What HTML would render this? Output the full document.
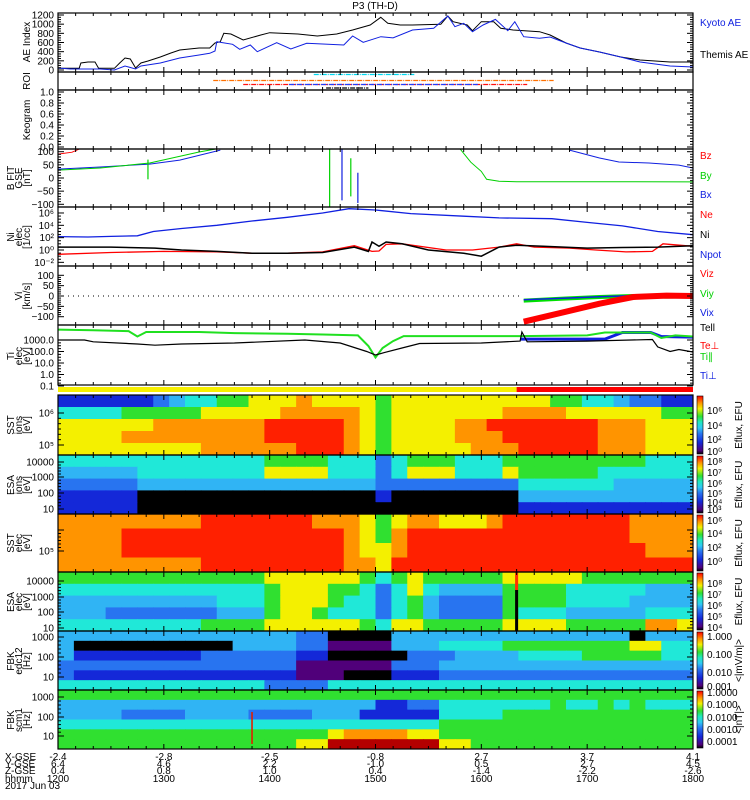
<!DOCTYPE html>
<html><head><meta charset="utf-8">
<style>
html,body{margin:0;padding:0;background:#fff;}
svg{display:block;font-family:"Liberation Sans",sans-serif;}
text{font-size:10px;}
</style></head>
<body>
<svg id="chart" width="750" height="800" viewBox="0 0 750 800" xmlns="http://www.w3.org/2000/svg">
<rect x="0" y="0" width="750" height="800" fill="#fff"/>
<text x="375" y="9" text-anchor="middle">P3 (TH-D)</text>
</svg>
<script>
// ---------- data (time in minutes after 12:00 UT) ----------
const aeThemisT = [0,12,13,17,21,23,32,35,38,41,44,47,51,58,64,69,80,86,89,92,94,98,105,115,120,136,147,158,167,177,183,187,194,201,217,221,224,232,235,240,247,251,258,273,279,288,296,307,319,330,347,360];
const aeThemisV = [36,40,153,175,175,36,36,153,262,240,44,153,196,284,371,436,480,480,589,617,800,785,655,763,814,785,742,785,873,982,1150,1018,982,982,1000,1178,1054,982,858,1054,1054,909,873,836,763,589,480,393,284,218,175,175];
const aeKyotoT = [0,7,24,32,38,44,47,58,69,80,86,89,90,99,103,109,113,124,132,141,162,167,173,183,190,201,213,221,225,230,235,241,248,255,259,264,273,279,288,296,307,319,330,347,360];
const aeKyotoV = [44,22,22,0,87,22,87,153,262,327,364,415,617,560,451,545,400,596,458,582,545,742,604,727,700,873,909,1178,945,1018,836,982,1105,858,1054,727,691,720,589,480,393,284,175,87,65];
const aeTicks = [0,200,400,600,800,1000,1200];

const bTicks = [100,50,0,-50,-100];
const bxT = [0,24,52,69,92,   290,307,318,335,352,360];
const bxV = [34,42,53,68,106, 106,76,61,57,49,38];
const byT = [0,24,52,80,89,   228,234,240,243,250,260,300,360];
const byV = [30,38,57,99,110, 110,60,25,-5,-12,-14,-14,-15];
const bzT = [0,8,12];
const bzV = [91,98,110];
const bSpikeT = [51,154,161,166,170];
const bSpikeTop = [70,110,110,75,20];
const bSpikeBot = [-5,-110,-85,-70,-95];
const bSpikeC = ['#00d000','#00d000','#1020e0','#00d000','#1020e0'];

const niTicks = [6,4,2,0,-2];
const npotT = [0,17,30,45,54,70,90,110,130,150,165,180,200,230,250,280,300,320,340,360];
const npotV = [150,130,160,200,1e3,3e3,1e4,5e4,2e5,1e6,5e6,3e6,8e5,3e5,1.6e5,1.2e5,3e4,8e3,1e3,300];
const neT = [0,30,60,90,110,130,150,168,178,182,186,195,220,235,250,260,270,290,305,322,337,343,360];
const neV = [0.2,0.4,0.6,0.5,0.3,0.3,0.5,5,0.6,0.7,8,10,1,1,3,10,3,2,1,0.5,0.6,10,4];
const niT = [0,30,55,70,90,110,130,150,168,176,178,182,186,195,210,230,240,250,260,275,300,320,340,360];
const niV = [3,3,2,1,0.6,0.3,0.3,0.4,3,0.6,20,4,20,10,1,0.3,0.1,3,6,4,2,2.5,3,5];

const viTicks = [100,50,0,-50,-100];
const vT = [264,288,307,326,345,360];
const vxV = [-124,-76,-37,-5,2,0];
const vyV = [-22,-12,-5,0,-3,-2];
const vzV = [-18,-10,-4,2,1,-3];

const tiTicks = [1000,100,10,1,0.1];
const tiTickLabels = ['1000.0','100.0','10.0','1.0','0.1'];
const teParT = [0,15,20,45,55,70,100,140,160,175,180,185,195,205,240,262,263,266,300,337,340,347,352,360];
const teParV = [1000,1000,700,450,350,450,550,1000,550,100,50,80,200,500,550,800,5000,700,800,1100,250,100,150,90];
const tiParT = [0,20,40,45,50,80,100,130,150,170,176,180,184,190,196,220,262,300,310,336,342,350,360];
const tiParV = [8000,7000,6000,2000,5000,5000,4000,3500,3000,2500,300,30,200,800,2200,2200,2200,2500,4500,4500,1500,2500,2000];
const tiPerpT = [262,310,320,336,342,360];
const tiPerpV = [1200,1200,4500,4500,2000,1800];

const roiLines = [ // start, end (minutes), color
  {t0:145,t1:202,c:'#00d8f0'},
  {t0:88,t1:281,c:'#ff7000'},
  {t0:105,t1:266,c:'#ff1010'},
  {t0:131,t1:238,c:'#2040ff'},
  {t0:152,t1:176,c:'#000000'}
];
const statusT = [0,260,360];
const statusC = ['#f8f000','#ff0000'];

// spectrogram levels (digit 0..9, a) rows top->bottom, columns time
const sstIon = [
 "222222"+"3"+"4"+"5"+"5"+"6"+"6"+"777"+"8"+"7777"+"6"+"7777777777"+"66"+"55"+"4"+"33"+"22",
 "5555"+"66666"+"77777"+"88888"+"7"+"6"+"7777777"+"8888"+"777777"+"66",
 "7777"+"77888"+"8888"+"99999"+"8"+"7"+"6"+"777"+"7"+"88"+"99"+"99999"+"888"+"777",
 "7777"+"88888"+"8888"+"99999"+"8"+"7"+"6"+"7777"+"888"+"999999"+"888"+"777",
 "7777"+"77777"+"88888"+"8999"+"8"+"7"+"6"+"7777"+"7"+"888"+"99999"+"888"+"777"
];
const esaIon = [
 "555555"+"5555555"+"6666"+"555"+"3"+"5"+"666"+"555"+"6"+"6666"+"6666"+"555",
 "44444"+"55555555"+"7777"+"555"+"3"+"5"+"777"+"555"+"7"+"66666"+"555555",
 "33333"+"444444444444444"+"3"+"33333333"+"555555"+"44444",
 "22222"+"000000000000000"+"2"+"00000000"+"44444444444",
 "22222"+"000000000000000"+"0"+"00000000"+"22222222222"
];
const sstElec = [
 "8888"+"88888"+"9999999"+"888"+"7"+"6"+"7"+"88"+"777"+"8"+"99999999"+"8888",
 "8888"+"999999999999"+"99"+"8"+"7"+"6"+"8"+"999999"+"99999999"+"8888",
 "8888"+"99999999999999"+"8"+"7"+"7"+"8"+"999999999999999"+"888",
 "8888"+"88888"+"999999999"+"8"+"8"+"7"+"9"+"999999999999999999"
];
const esaElec = [
 "666"+"6666666666"+"7777"+"77"+"6"+"5"+"6"+"7"+"66666"+"7"+"7777"+"6666666",
 "555"+"5555555555"+"6"+"777"+"66"+"5"+"3"+"5"+"7"+"5"+"4444"+"6"+"666"+"55555"+"444",
 "444"+"4444444"+"555"+"6"+"777"+"6"+"5"+"5"+"3"+"5"+"6"+"4"+"3333"+"6"+"666"+"5555"+"4444",
 "444"+"3333333"+"444"+"6"+"77"+"6"+"5"+"5"+"5"+"3"+"5"+"6"+"4"+"3333"+"6"+"555"+"4444"+"4"+"555",
 "555"+"555555"+"6666"+"7777"+"7"+"7"+"6"+"5"+"7"+"7"+"66666"+"7"+"777"+"66666"+"88"+"7"
];
const fbkEdc = [
 "444444444444444"+"330000"+"4444444444444440444",
 "4"+"0000000000"+"4444"+"33"+"1111"+"444"+"5555"+"66"+"666666"+"77"+"55",
 "4"+"22222222"+"333333"+"22"+"00000"+"333"+"4444"+"5555"+"666"+"66"+"55",
 "3"+"33333333"+"333333"+"111"+"111"+"333"+"4444"+"4444"+"44444444",
 "3"+"22222222"+"222222"+"111"+"000"+"222"+"3333"+"33333333"+"3333",
 "5555555555555"+"3333"+"55555555555555555555555"
];
const fbkScm = [
 "6666666666666666666666666666666666666666",
 "44444444444444444444"+"2233"+"5555"+"555655656555",
 "4444333344443333444"+"22222"+"5555"+"666666666666",
 "555555555555555555555555"+"6666666666666666",
 "66666666666666666"+"7888877"+"6666666666666666",
 "666666666666666"+"77"+"aaaaaaa"+"77"+"66666666666666"
];
const colorLevels = {'0':'#000000','1':'#50007a','2':'#1428d8','3':'#2874f0','4':'#30b4f4','5':'#20e8d8','6':'#30e030','7':'#f4f000','8':'#ff9400','9':'#ff2000','a':'#b40000'};
const hourLabels = ['1200','1300','1400','1500','1600','1700','1800'];
const xgse = ['-2.4','-2.8','-2.5','-0.8','2.7','3.7','4.1'];
const ygse = ['6.4','4.6','2.2','-1.0','0.5','2.7','4.5'];
const zgse = ['0.4','0.8','1.0','0.4','-1.4','-2.2','-2.6'];

// ---------- drawing ----------
const NS='http://www.w3.org/2000/svg';
const svg=document.getElementById('chart');
const X0=58, X1=693;
function xOf(m){return X0+m*(X1-X0)/360;}
function el(tag,attrs,parent){const e=document.createElementNS(NS,tag);for(const k in attrs)e.setAttribute(k,attrs[k]);(parent||svg).appendChild(e);return e;}
function txt(x,y,s,anchor,color,parent,rot){
  const t=el('text',{x:x,y:y,'text-anchor':anchor||'start',fill:color||'#000'},parent);
  if(rot)t.setAttribute('transform','rotate(-90 '+x+' '+y+')');
  t.textContent=s;return t;}

const panels=[
 {id:'ae',y0:13,y1:72},{id:'roi',y0:72,y1:90},{id:'keogram',y0:90,y1:149},
 {id:'bfit',y0:149,y1:207},{id:'ni',y0:207,y1:266},{id:'vi',y0:266,y1:325},
 {id:'ti',y0:325,y1:385},{id:'sst-ion',y0:395,y1:455},{id:'esa-ion',y0:455,y1:514},
 {id:'sst-elec',y0:514,y1:572},{id:'esa-elec',y0:572,y1:631},{id:'fbk-edc12',y0:631,y1:690},
 {id:'fbk-scm1',y0:690,y1:749}];
const defs=el('defs',{});
panels.forEach(p=>{const c=el('clipPath',{id:'clip-'+p.id},defs);el('rect',{x:X0,y:p.y0,width:X1-X0,height:p.y1-p.y0},c);});

function polyline(ts,vs,yf,color,clip,w,name){
  const pts=ts.map((t,i)=>xOf(t).toFixed(1)+','+yf(vs[i]).toFixed(1)).join(' ');
  const pl=el('polyline',{points:pts,fill:'none',stroke:color,'stroke-width':w||1,'clip-path':'url(#clip-'+clip+')'});
  
  
  return pl;}

// spectrograms
function spectro(levels,p,name){
  const g=el('g',{'clip-path':'url(#clip-'+p.id+')'});
  
  
  const h=(p.y1-p.y0)/levels.length;
  levels.forEach((row,r)=>{
    const w=(X1-X0)/row.length;
    for(let i=0;i<row.length;i++){
      el('rect',{x:(X0+i*w).toFixed(2),y:(p.y0+r*h).toFixed(2),width:(w+0.6).toFixed(2),height:(h+0.6).toFixed(2),fill:colorLevels[row[i]]},g);
    }
  });
  return g;}
const P={};panels.forEach(p=>P[p.id]=p);
spectro(sstIon,P['sst-ion'],'sst-ion-spectrogram');
spectro(esaIon,P['esa-ion'],'esa-ion-spectrogram');
spectro(sstElec,P['sst-elec'],'sst-elec-spectrogram');
spectro(esaElec,P['esa-elec'],'esa-elec-spectrogram');
spectro(fbkEdc,P['fbk-edc12'],'fbk-edc12-spectrogram');
spectro(fbkScm,P['fbk-scm1'],'fbk-scm1-spectrogram');
// black vertical gap line in esa elec
const gapLine=el('rect',{x:xOf(260)-1.5,y:590,width:3,height:41,fill:'#000'});


el('rect',{x:xOf(260)-1.5,y:572,width:3,height:18,fill:'#ff3000'});
const scmSpike=el('rect',{x:xOf(110)-0.8,y:712,width:1.6,height:32,fill:'#e02000'});



// status bar
for(let i=0;i<statusC.length;i++){
  const r=el('rect',{x:xOf(statusT[i]),y:387,width:xOf(statusT[i+1])-xOf(statusT[i]),height:5,fill:statusC[i]});
  
  
}

// AE panel
const yAE=v=>70-v*55/1200;
polyline(aeThemisT,aeThemisV,yAE,'#000','ae',1,'themis-ae-line');
polyline(aeKyotoT,aeKyotoV,yAE,'#1020e0',  'ae',1,'kyoto-ae-line');
// ROI
const roiY=[74.5,80.5,84.5,84.5,88];
roiLines.forEach((r,i)=>{
  const l=el('line',{x1:xOf(r.t0),x2:xOf(r.t1),y1:roiY[i],y2:roiY[i],stroke:r.c,'stroke-width':1.3,'stroke-dasharray':'5,1,1,1'});
  
  
});
// B
const yB=v=>178-v*0.263;
polyline(bxT.slice(0,5),bxV.slice(0,5),yB,'#1020e0','bfit',1,'bx-line');
polyline(bxT.slice(5),bxV.slice(5),yB,'#1020e0','bfit',1,'bx-line-2');
polyline(byT.slice(0,5),byV.slice(0,5),yB,'#00d000','bfit',1,'by-line');
polyline(byT.slice(5),byV.slice(5),yB,'#00d000','bfit',1,'by-line-2');
polyline(bzT,bzV,yB,'#ff0000','bfit',1,'bz-line');
bSpikeT.forEach((t,i)=>{
  const l=el('line',{x1:xOf(t),x2:xOf(t),y1:yB(bSpikeTop[i]),y2:yB(bSpikeBot[i]),stroke:bSpikeC[i],'stroke-width':1.2,'clip-path':'url(#clip-bfit)'});
  
  
});
// Ni
const yNi=v=>250-Math.log10(v)*6.17;
polyline(npotT,npotV,yNi,'#1020e0','ni',1.3,'npot-line');
polyline(neT,neV,yNi,'#ff0000','ni',1.3,'ne-line');
polyline(niT,niV,yNi,'#000','ni',1.5,'ni-line');
// Vi
const yV=v=>296-v*0.207;
const zl=el('line',{x1:X0+10,x2:xOf(263),y1:296,y2:296,stroke:'#000','stroke-dasharray':'1,4'});


polyline(vT,vyV,yV,'#00e000','vi',4,'viy-line');
polyline(vT,vzV,yV,'#1020e0','vi',1.5,'vix-line');
polyline(vT,vxV,yV,'#ff0000','vi',6,'vix-red-line');
// Ti
const yT=v=>374.5-Math.log10(v)*11.5;
polyline(tiPerpT,tiPerpV,yT,'#1020e0','ti',3,'ti-perp-line');
polyline(tiParT,tiParV,yT,'#20e020','ti',2,'ti-par-line');
polyline(teParT,teParV,yT,'#000','ti',1.2,'te-par-line');

// frames and ticks
panels.forEach(p=>{
  const r=el('rect',{x:X0,y:p.y0,width:X1-X0,height:p.y1-p.y0,fill:'none',stroke:'#000','stroke-width':1.2});
  
  
  for(let m=0;m<=360;m+=10){
    const len=(m%60===0)?5:3;const x=xOf(m);
    el('line',{x1:x,x2:x,y1:p.y0,y2:p.y0+len,stroke:'#000'});
    el('line',{x1:x,x2:x,y1:p.y1,y2:p.y1-len,stroke:'#000'});
  }
});
function yTicks(p,positions,labels,minorN){
  positions.forEach((y,i)=>{
    el('line',{x1:X0,x2:X0+6,y1:y,y2:y,stroke:'#000'});
    el('line',{x1:X1,x2:X1-6,y1:y,y2:y,stroke:'#000'});
    if(labels[i]!=null){const t=txt(X0-4,y+3.5,labels[i],'end');}
    if(i<positions.length-1){const d=(positions[i+1]-positions[i])/(minorN+1);
      for(let k=1;k<=minorN;k++){const yy=positions[i]+d*k;
        el('line',{x1:X0,x2:X0+3,y1:yy,y2:yy,stroke:'#000'});el('line',{x1:X1,x2:X1-3,y1:yy,y2:yy,stroke:'#000'});}}
  });
}
yTicks(P.ae,aeTicks.map(yAE),aeTicks.map(String),3);
yTicks(P.keogram,[0,0.2,0.4,0.6,0.8,1].map(v=>147-v*55),['0.0','0.2','0.4','0.6','0.8','1.0'],3);
yTicks(P.bfit,bTicks.map(yB),bTicks.map(v=>v<0?'\u2212'+(-v):String(v)),4);
yTicks(P.ni,niTicks.map(e=>yNi(Math.pow(10,e))),niTicks.map(e=>'10'+({'6':'\u2076','4':'\u2074','2':'\u00b2','0':'\u2070','-2':'\u207b\u00b2'})[e]),3);
yTicks(P.vi,viTicks.map(yV),viTicks.map(v=>v<0?'\u2212'+(-v):String(v)),4);
yTicks(P.ti,tiTicks.map(yT),tiTickLabels,3);
yTicks(P['sst-ion'],[413,445],['10\u2076','10\u2075'],5);
yTicks(P['esa-ion'],[462,477,493,509],['10000','1000','100','10'],4);
yTicks(P['sst-elec'],[530,551],[null,'10\u2075'],5);
yTicks(P['esa-elec'],[581,597,612,628],['10000','1000','100','10'],4);
yTicks(P['fbk-edc12'],[637,657,677],['1000','100','10'],4);
yTicks(P['fbk-scm1'],[697,717,736],['1000','100','10'],4);

// left axis titles (rotated)
const leftTitles=[
 {lines:['AE Index'],y:42},{lines:['ROI'],y:81},{lines:['Keogram'],y:120},
 {lines:['B FIT','GSE','[nT]'],y:178},{lines:['Ni','elec','[1/cc]'],y:237},
 {lines:['Vi','[km/s]'],y:296},{lines:['Ti','elec','[eV]'],y:356},
 {lines:['SST','ions','[eV]'],y:425},{lines:['ESA','ions','[eV]'],y:485},
 {lines:['SST','elec','[eV]'],y:543},{lines:['ESA','elec','[eV]'],y:602},
 {lines:['FBK','edc12','[Hz]'],y:661},{lines:['FBK','scm1','[Hz]'],y:720}];
leftTitles.forEach(t=>{
  const n=t.lines.length;
  t.lines.forEach((s,i)=>{const x=(n===1?30:(n===2?22:14))+i*8;
    const e=txt(x,t.y,s,'middle','#000',null,true);e.setAttribute('font-size',i===0?'10':'8');
    });
});

// right legend labels
const legend=[['Kyoto AE',26,'#1020e0'],['Themis AE',58,'#000'],['Bz',159,'#ff0000'],['By',179,'#00d000'],['Bx',198,'#1020e0'],
 ['Ne',218,'#ff0000'],['Ni',238,'#000'],['Npot',258,'#1020e0'],['Viz',277,'#ff0000'],['Viy',297,'#00d000'],['Vix',316,'#1020e0'],
 ['Tell',331,'#000'],['Te\u22a5',349,'#ff0000'],['Ti\u2225',360,'#00d000'],['Ti\u22a5',379,'#1020e0']];
legend.forEach(l=>{const t=txt(700,l[1],l[0],'start',l[2]);});

// colorbars
const cb=el('linearGradient',{id:'rainbow',x1:0,y1:1,x2:0,y2:0},defs);
[['0','#000000'],['0.06','#50007a'],['0.2','#1428d8'],['0.35','#2874f0'],['0.45','#30c8f4'],['0.55','#20e8c0'],['0.65','#30e030'],['0.78','#f4f000'],['0.88','#ff9400'],['1','#ff0000']].forEach(s=>el('stop',{offset:s[0],'stop-color':s[1]},cb));
const cbars=[
 {p:'sst-ion',labs:[['10\u2076',411],['10\u2074',426],['10\u00b2',440],['10\u2070',452]],title:'Eflux, EFU'},
 {p:'esa-ion',labs:[['10\u2078',462],['10\u2077',473],['10\u2076',484],['10\u2075',494],['10\u2074',503],['10\u00b3',510]],title:'Eflux, EFU'},
 {p:'sst-elec',labs:[['10\u2076',521],['10\u2074',534],['10\u00b2',548],['10\u2070',562]],title:'Eflux, EFU'},
 {p:'esa-elec',labs:[['10\u2078',584],['10\u2077',595],['10\u2076',606],['10\u2075',617],['10\u2074',628]],title:'Eflux, EFU'},
 {p:'fbk-edc12',labs:[['1.000',637],['0.100',655],['0.010',673],['0.001',687]],title:'<|mV/m|>'},
 {p:'fbk-scm1',labs:[['1.0000',693],['0.1000',705],['0.0100',718],['0.0010',730],['0.0001',742]],title:'<|nT|>'}];
cbars.forEach(c=>{const p=P[c.p];
  const r=el('rect',{x:697,y:p.y0+1,width:6,height:p.y1-p.y0-2,fill:'url(#rainbow)',stroke:'#000','stroke-width':0.6});
  
  c.labs.forEach(l=>{const t=txt(707,l[1]+3,l[0],'start','#000');t.setAttribute('font-size','9');});
  const tt=txt(742,(p.y0+p.y1)/2,c.title,'middle','#000',null,true);tt.setAttribute('font-size','9');
  
});

// bottom x labels
const rows=[['X-GSE',xgse,757],['Y-GSE',ygse,764],['Z-GSE',zgse,771],['hhmm',hourLabels,779]];
rows.forEach(r=>{
  const t=txt(5,r[2]+3,r[0],'start');t.setAttribute('font-size','9');
  r[1].forEach((s,i)=>{const e=txt(xOf(i*60),r[2]+3,s,'middle');e.setAttribute('font-size','9');});
});
const dt=txt(5,789,'2017 Jun 03','start');dt.setAttribute('font-size','9');
</script>
</body></html>
